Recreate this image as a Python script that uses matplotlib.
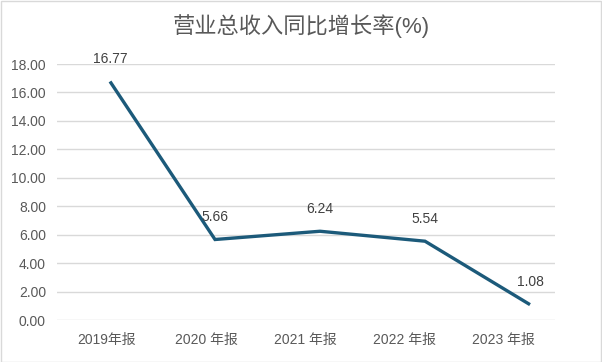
import matplotlib
matplotlib.use("Agg")
import matplotlib.pyplot as plt
from matplotlib.patches import Rectangle

plt.rcParams['font.family'] = ['Liberation Sans', 'Noto Sans CJK SC', 'DejaVu Sans']

title = "营业总收入同比增长率(%)"
categories = ["2019年报", "2020 年报", "2021 年报", "2022 年报", "2023 年报"]
values = [16.77, 5.66, 6.24, 5.54, 1.08]
yticks = [0, 2, 4, 6, 8, 10, 12, 14, 16, 18]

W, H = 602, 362
fig = plt.figure(figsize=(W / 100, H / 100), dpi=100)
fig.patch.set_facecolor("white")
fig.add_artist(Rectangle((0.5 / W, 0.5 / H), 1 - 1.5 / W, 1 - 1.5 / H,
                         transform=fig.transFigure, fill=False,
                         edgecolor="#d9d9d9", linewidth=1))

ax = fig.add_axes([57 / W, (H - 320) / H, (555 - 57) / W, (320 - 64) / H])
x = list(range(len(values)))
ax.plot(x, values, color="#1c5a7a", linewidth=2.4, solid_joinstyle="miter",
        solid_capstyle="butt", zorder=3)
for xi, v in zip(x, values):
    ax.annotate(f"{v:.2f}", (xi, v), xytext=(0, 16), textcoords="offset points",
                ha="center", va="center", fontsize=10, color="#404040")

ax.set_xlim(-0.505, 4.238)
ax.set_ylim(0, 18)
ax.set_yticks(yticks)
ax.set_yticklabels([f"{t:.2f}" for t in yticks], fontsize=10, color="#595959")
tick_pos = [i * 0.945 - 0.03 for i in x]
ax.set_xticks(tick_pos)
ax.set_xticklabels(categories, fontsize=10, color="#595959")
ax.tick_params(axis="both", length=0)
ax.tick_params(axis="y", pad=8)
ax.tick_params(axis="x", pad=9)
ax.grid(axis="y", color="#d9d9d9", linewidth=1)
ax.set_axisbelow(True)
for s in ax.spines.values():
    s.set_visible(False)

fig.text(0.5, (H - 26) / H, title, ha="center", va="center", fontsize=16,
         color="#595959")

fig.savefig("out.png", dpi=100)
